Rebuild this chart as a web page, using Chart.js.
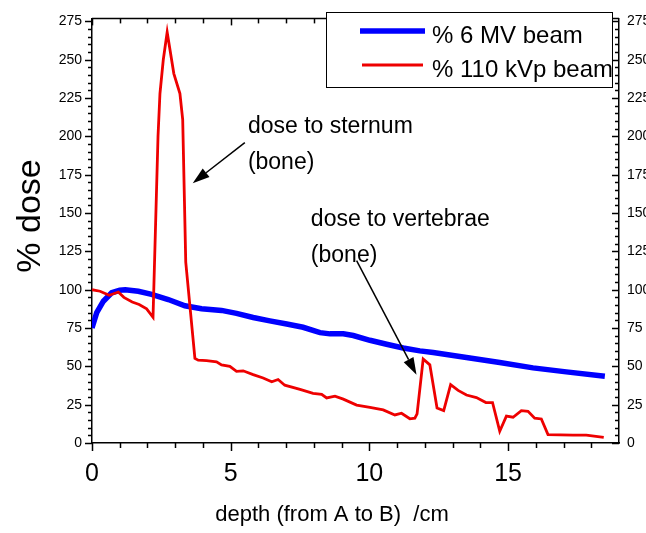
<!DOCTYPE html>
<html lang="en">
  <head>
    <meta charset="UTF-8">
    <title>Depth dose</title>
    <script src="https://cdn.jsdelivr.net/npm/chart.js@4.4.0/dist/chart.umd.min.js"></script>
    <style>
      body { margin: 0; background: #fff; }
    </style>
  </head>
  <body>
    <canvas id="myChart" width="646" height="533"></canvas>
    <script>
      const FONT = '"Liberation Sans", Arial, sans-serif';

      // % 6 MV beam
      const mvDepth = [0, 0.17, 0.41, 0.71, 1.0, 1.2, 1.67, 2.15, 2.75, 3.35, 3.95, 4.67, 5.21, 5.81, 6.41, 7.02,
        7.61, 8.22, 8.58, 9.06, 9.42, 10.02, 10.62, 11.22, 11.82, 12.3, 13.5, 14.7, 15.9, 17.1, 18.49];
      const mvDose = [75, 85, 92.5, 98, 99.6, 100, 99, 97, 93.6, 89.5, 87.6, 86.5, 84.6, 81.9, 79.7, 77.6,
        75.5, 72, 71.2, 71.2, 70.1, 67, 64.4, 62, 60.1, 59, 55.8, 52.5, 49, 46.4, 43.5];

      // % 110 kVp beam
      const kvDepth = [0, 0.29, 0.62, 0.95, 1.15, 1.45, 1.7, 1.97, 2.2, 2.38, 2.45, 2.57, 2.71, 2.95, 3.17, 3.27,
        3.38, 3.71, 3.83, 4.13, 4.49, 4.67, 4.97, 5.21, 5.45, 5.81, 6.17, 6.48, 6.71, 6.95, 7.5, 7.97, 8.28,
        8.46, 8.76, 9.06, 9.54, 10.02, 10.5, 10.92, 11.16, 11.46, 11.64, 11.72, 11.94, 12.18, 12.44, 12.68,
        12.93, 13.2, 13.5, 13.86, 14.2, 14.44, 14.7, 14.94, 15.18, 15.48, 15.72, 15.96, 16.2, 16.44, 17.34,
        17.82, 18.45];
      const kvDose = [100, 99, 96.4, 98.5, 95, 92, 90.4, 87.5, 82, 200, 228, 250, 268, 241, 228, 211,
        118, 55.2, 54, 53.7, 53, 51, 50, 46.7, 47.1, 44.6, 42.4, 39.9, 41.4, 37.7, 35, 32.4, 31.8,
        29.4, 30.5, 28.6, 24.7, 23.2, 21.6, 18.3, 19.4, 15.8, 16.2, 19, 54.8, 51, 22.8, 21.1,
        38.1, 34.3, 31.3, 29.6, 26.4, 26.4, 7.7, 17.5, 16.8, 21.1, 20.7, 16.2, 15.7, 5.5, 5.1,
        5.1, 3.6];

      const xTicks = [0, 5, 10, 15];
      const yTicks = [0, 25, 50, 75, 100, 125, 150, 175, 200, 225, 250, 275];

      const notes = [
        { lines: ['dose to sternum', '(bone)'], at: [5.62, 202], from: [5.51, 196], to: [3.63, 169.5] },
        { lines: ['dose to vertebrae', '(bone)'], at: [7.89, 141.5], from: [9.54, 119], to: [11.7, 44.6] }
      ];

      function toPoints(xs, ys) {
        return xs.map((x, i) => ({ x: x, y: ys[i] }));
      }

      function arrow(ctx, x1, y1, x2, y2) {
        const a = Math.atan2(y2 - y1, x2 - x1);
        const hl = 17, hw = 5.5;
        const bx = x2 - hl * Math.cos(a), by = y2 - hl * Math.sin(a);
        ctx.beginPath();
        ctx.moveTo(x1, y1);
        ctx.lineTo(bx, by);
        ctx.stroke();
        ctx.beginPath();
        ctx.moveTo(x2, y2);
        ctx.lineTo(bx + hw * Math.sin(a), by - hw * Math.cos(a));
        ctx.lineTo(bx - hw * Math.sin(a), by + hw * Math.cos(a));
        ctx.closePath();
        ctx.fill();
      }

      function seg(ctx, x1, y1, x2, y2) {
        ctx.beginPath();
        ctx.moveTo(x1, y1);
        ctx.lineTo(x2, y2);
        ctx.stroke();
      }

      // frame ticks, legend box, notes and axis titles
      const extras = {
        id: 'extras',
        afterDraw(chart) {
          const { ctx, chartArea: a, scales } = chart;
          const sx = scales.x, sy = scales.y;
          ctx.save();
          ctx.strokeStyle = '#000';
          ctx.fillStyle = '#000';
          ctx.lineWidth = 1.5;
          seg(ctx, a.left, a.top, a.right, a.top);
          for (let v = 0; v <= 275; v += 5) {
            const y = Math.round(sy.getPixelForValue(v)) + 0.5;
            const big = v % 25 === 0;
            seg(ctx, a.left - (big ? 7 : 4), y, a.left, y);
            seg(ctx, a.right - (big ? 7 : 4), y, a.right, y);
          }
          for (let d = 0; d <= 18; d++) {
            const x = Math.round(sx.getPixelForValue(d)) + 0.5;
            const big = d % 5 === 0;
            seg(ctx, x, a.bottom, x, a.bottom + (big ? 8 : 5));
            seg(ctx, x, a.top, x, a.top + (big ? 7 : 5));
          }

          // legend
          ctx.lineWidth = 1;
          ctx.fillStyle = '#fff';
          ctx.fillRect(326, 12.5, 286, 75);
          ctx.strokeRect(326.5, 12.5, 286, 75);
          ctx.font = '24px ' + FONT;
          ctx.textBaseline = 'middle';
          ctx.textAlign = 'left';
          const rows = [[360, 425, 31, 36], [362, 423, 65, 70]];
          chart.data.datasets.forEach((ds, i) => {
            const r = rows[i];
            ctx.strokeStyle = ds.borderColor;
            ctx.lineWidth = ds.borderWidth;
            seg(ctx, r[0], r[2], r[1], r[2]);
            ctx.fillStyle = '#000';
            ctx.fillText(ds.label, 432, r[3]);
          });

          // notes
          ctx.strokeStyle = '#000';
          ctx.fillStyle = '#000';
          ctx.lineWidth = 1.5;
          ctx.font = '23px ' + FONT;
          ctx.textBaseline = 'alphabetic';
          notes.forEach(n => {
            const tx = sx.getPixelForValue(n.at[0]), ty = sy.getPixelForValue(n.at[1]);
            n.lines.forEach((t, i) => ctx.fillText(t, tx, ty + i * 36));
            arrow(ctx, sx.getPixelForValue(n.from[0]), sy.getPixelForValue(n.from[1]),
              sx.getPixelForValue(n.to[0]), sy.getPixelForValue(n.to[1]));
          });

          // axis titles
          ctx.textAlign = 'center';
          ctx.textBaseline = 'middle';
          ctx.font = '22px ' + FONT;
          ctx.fillText('depth (from A to B)  /cm', 332, 515);
          ctx.save();
          ctx.translate(31, 216);
          ctx.rotate(-Math.PI / 2);
          ctx.font = '34px ' + FONT;
          ctx.fillText('% dose', 0, 0);
          ctx.restore();
          ctx.restore();
        }
      };

      const tickFont = { family: FONT, size: 14 };

      new Chart(document.getElementById('myChart'), {
        type: 'scatter',
        data: {
          datasets: [
            {
              label: '% 6 MV beam',
              data: toPoints(mvDepth, mvDose),
              showLine: true,
              borderColor: '#0000ff',
              borderWidth: 5.5,
              pointRadius: 0,
              tension: 0,
              order: 1
            },
            {
              label: '% 110 kVp beam',
              data: toPoints(kvDepth, kvDose),
              showLine: true,
              borderColor: '#ee0000',
              borderWidth: 2.8,
              pointRadius: 0,
              tension: 0,
              order: 0
            }
          ]
        },
        options: {
          responsive: false,
          animation: false,
          layout: { padding: { top: 10, left: 0, right: 0, bottom: 0 } },
          plugins: { legend: { display: false }, tooltip: { enabled: false } },
          scales: {
            x: {
              type: 'linear',
              min: 0,
              max: 19,
              afterBuildTicks: s => { s.ticks = xTicks.map(v => ({ value: v })); },
              afterFit: s => { s.height = 90; },
              grid: { display: false, drawTicks: false },
              border: { display: true, color: '#000', width: 1.5 },
              ticks: { color: '#000', font: { family: FONT, size: 25 }, padding: 16, maxRotation: 0 }
            },
            y: {
              type: 'linear',
              min: 0,
              max: 277,
              afterBuildTicks: s => { s.ticks = yTicks.map(v => ({ value: v })); },
              afterFit: s => { s.width = 92; },
              grid: { display: false, drawTicks: false },
              border: { display: true, color: '#000', width: 1.5 },
              ticks: { color: '#000', font: tickFont, padding: 10 }
            },
            y2: {
              type: 'linear',
              position: 'right',
              min: 0,
              max: 277,
              afterBuildTicks: s => { s.ticks = yTicks.map(v => ({ value: v })); },
              afterFit: s => { s.width = 27; },
              grid: { display: false, drawTicks: false },
              border: { display: true, color: '#000', width: 1.5 },
              ticks: { color: '#000', font: tickFont, padding: 8 }
            }
          }
        },
        plugins: [extras]
      });
    </script>
  </body>
</html>
